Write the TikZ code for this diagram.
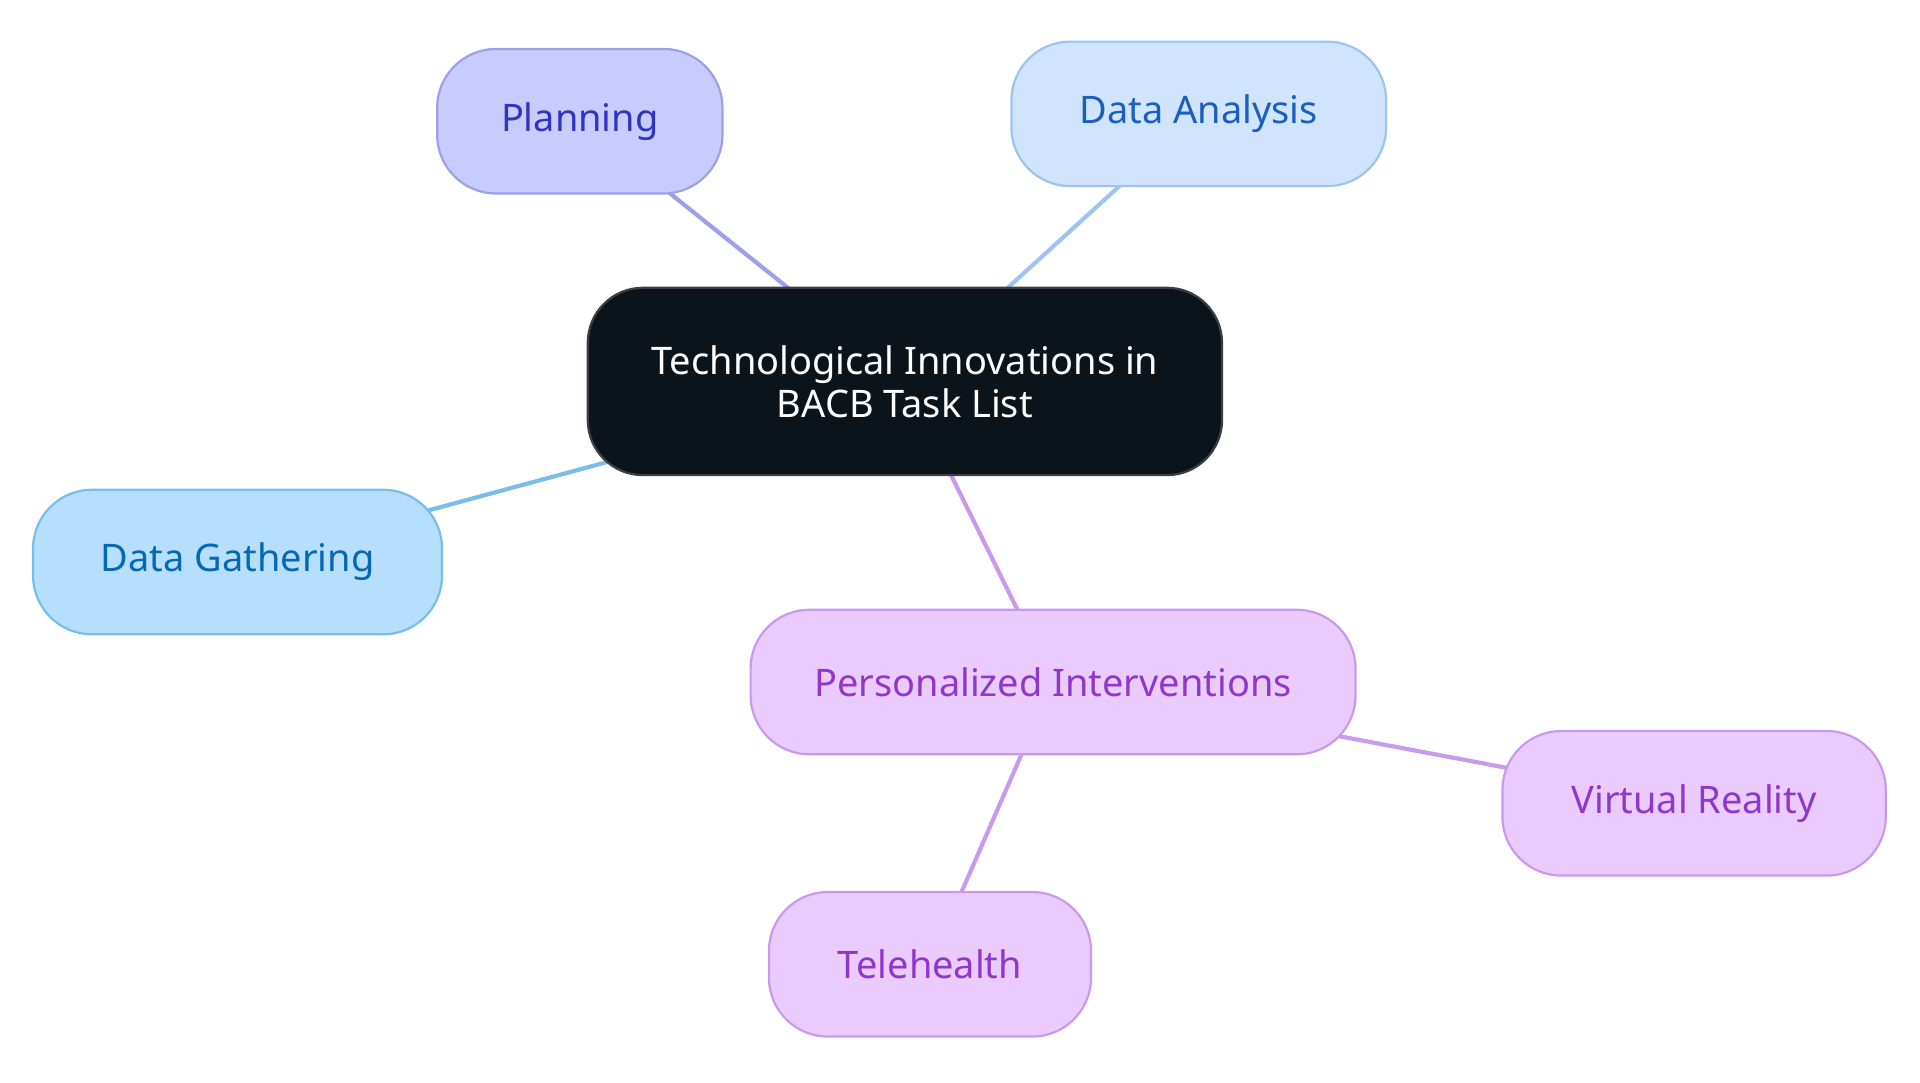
\documentclass[tikz,border=0pt]{standalone}
\usepackage{fontspec}
\setmainfont{Noto Sans}
\usetikzlibrary{backgrounds}
\definecolor{plFill}{HTML}{C8CBFE}
\definecolor{plDraw}{HTML}{9D9FEB}
\definecolor{plText}{HTML}{2F35BF}
\definecolor{daFill}{HTML}{D0E5FD}
\definecolor{daDraw}{HTML}{9DC3EE}
\definecolor{daText}{HTML}{1C5DBF}
\definecolor{dgFill}{HTML}{B6DFFD}
\definecolor{dgDraw}{HTML}{7ABCEA}
\definecolor{dgText}{HTML}{0668B5}
\definecolor{puFill}{HTML}{EBCBFE}
\definecolor{puDraw}{HTML}{C99AEB}
\definecolor{puText}{HTML}{8F36CB}
\definecolor{ceFill}{HTML}{0C141B}
\definecolor{ceDraw}{HTML}{3B3F45}
\tikzset{
  x=1pt, y=-1pt,
  pill/.style={draw, line width=1.8pt, rounded corners=48pt, inner sep=0pt,
    minimum height=118pt, font=\fontsize{31}{35}\selectfont, align=center},
  plnode/.style={pill, fill=plFill, draw=plDraw, text=plText},
  danode/.style={pill, fill=daFill, draw=daDraw, text=daText},
  dgnode/.style={pill, fill=dgFill, draw=dgDraw, text=dgText},
  punode/.style={pill, fill=puFill, draw=puDraw, text=puText},
  cenode/.style={pill, fill=ceFill, draw=ceDraw, text=white, minimum height=153pt, rounded corners=45pt},
  link/.style={line width=3.4pt}
}
\begin{document}
\begin{tikzpicture}
\useasboundingbox (0,0) rectangle (1568,884.4);
\node[cenode, minimum width=518pt] (c) at (739,311.5) {Technological Innovations in\\BACB Task List};
\node[plnode, minimum width=233pt] (pl) at (473.5,99) {Planning};
\node[danode, minimum width=306pt] (da) at (979,93) {Data Analysis};
\node[dgnode, minimum width=334pt] (dg) at (194,459) {Data Gathering};
\node[punode, minimum width=494pt] (pi) at (860,557) {Personalized Interventions};
\node[punode, minimum width=313pt] (vr) at (1383.5,656) {Virtual Reality};
\node[punode, minimum width=263pt] (th) at (759.5,787.5) {Telehealth};
\begin{scope}[on background layer]
\draw[link, draw=plDraw] (c.center) -- (pl.center);
\draw[link, draw=daDraw] (c.center) -- (da.center);
\draw[link, draw=dgDraw] (c.center) -- (dg.center);
\draw[link, draw=puDraw] (c.center) -- (pi.center);
\draw[link, draw=puDraw] (pi.center) -- (vr.center);
\draw[link, draw=puDraw] (pi.center) -- (th.center);
\end{scope}
\end{tikzpicture}
\end{document}
